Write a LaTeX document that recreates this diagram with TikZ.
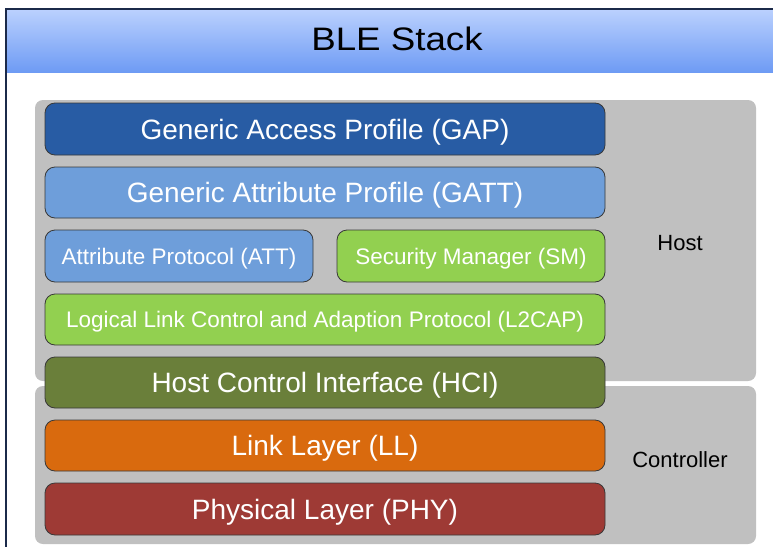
\documentclass[tikz,border=0pt]{standalone}
\usepackage{fontspec}
\setmainfont{Liberation Sans}
\definecolor{gapblue}{HTML}{285CA4}
\definecolor{attblue}{HTML}{6E9EDA}
\definecolor{smgreen}{HTML}{92D050}
\definecolor{hciolive}{HTML}{6A7F3A}
\definecolor{llorange}{HTML}{D96A0E}
\definecolor{phyred}{HTML}{9E3A35}
\definecolor{regiongray}{HTML}{C0C0C0}
\definecolor{bandtop}{HTML}{BBD1FE}
\definecolor{bandbot}{HTML}{6E9BF4}
\definecolor{framecol}{HTML}{1B2A4A}
\begin{document}
\begin{tikzpicture}[x=1pt,y=-1pt,
  layer/.style={draw=black!78, line width=0.8pt, rounded corners=10pt, text=white, inner sep=0pt, anchor=center},
  big/.style={font=\fontsize{28}{30}\selectfont, text height=20pt, text depth=0pt},
  small/.style={font=\fontsize{22.5}{24}\selectfont, text height=16.2pt, text depth=0pt},
  lbl/.style={font=\fontsize{22}{24}\selectfont, text height=15.8pt, text depth=0pt, inner sep=0pt, text=black},
  region/.style={fill=regiongray, rounded corners=8pt}
  ]
\useasboundingbox (0,0) rectangle (773,546);
\clip (0,0) rectangle (773,546);
\fill[white] (0,0) rectangle (773,546);
\shade[top color=bandtop,bottom color=bandbot] (6,9) rectangle (780,72);
\draw[framecol, line width=1.6pt] (6,560) -- (6,9) -- (780,9);
\node[font=\fontsize{32.5}{34}\selectfont, text height=23.3pt, text depth=0pt, inner sep=0pt] (title) at (397,38.5) {\scalebox{1.13}[1]{BLE Stack}};
\fill[region] (35,100) rectangle (756,381);
\fill[region] (35,386) rectangle (756,544);
\node[lbl] (host) at (680,242.5) {Host};
\node[lbl] (ctrl) at (680,460) {Controller};
\node[layer,big,fill=gapblue,minimum width=560pt,minimum height=52pt] (gap) at (325,129) {Generic Access Profile (GAP)};
\node[layer,big,fill=attblue,minimum width=560pt,minimum height=51pt] (gatt) at (325,192.5) {Generic Attribute Profile (GATT)};
\node[layer,small,fill=attblue,minimum width=268pt,minimum height=52pt] (att) at (179,256) {Attribute Protocol (ATT)};
\node[layer,small,fill=smgreen,minimum width=268pt,minimum height=52pt] (sm) at (471,256) {Security Manager (SM)};
\node[layer,small,fill=smgreen,minimum width=560pt,minimum height=51pt] (l2cap) at (325,319.5) {Logical Link Control and Adaption Protocol (L2CAP)};
\node[layer,big,fill=hciolive,minimum width=560pt,minimum height=51pt] (hci) at (325,382.5) {Host Control Interface (HCI)};
\node[layer,big,fill=llorange,minimum width=560pt,minimum height=51pt] (ll) at (325,445.5) {Link Layer (LL)};
\node[layer,big,fill=phyred,minimum width=560pt,minimum height=52pt] (phy) at (325,509) {Physical Layer (PHY)};
\end{tikzpicture}
\end{document}
